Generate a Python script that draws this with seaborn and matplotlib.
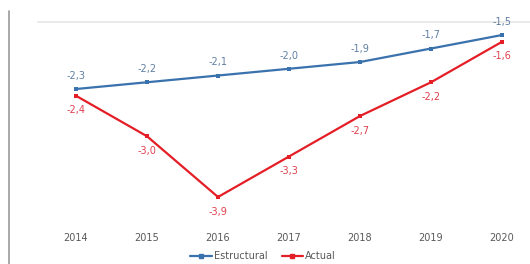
import pandas as pd
import numpy as np
import matplotlib.pyplot as plt
import seaborn as sns
from matplotlib.lines import Line2D

# datos del grafico
anios = ["2014", "2015", "2016", "2017", "2018", "2019", "2020"]
estructural = [-2.3, -2.2, -2.1, -2.0, -1.9, -1.7, -1.5]
actual = [-2.4, -3.0, -3.9, -3.3, -2.7, -2.2, -1.6]

df = pd.DataFrame({
    "pos": list(range(len(anios))) * 2,
    "valor": estructural + actual,
    "serie": ["Estructural"] * len(anios) + ["Actual"] * len(anios),
})

azul = "#3a72ad"
rojo = "#e41e26"

sns.set_theme(style="white")
plt.rcParams["font.family"] = ["DejaVu Sans"]

fig = plt.figure(figsize=(5.3, 2.64), dpi=100)
ax = fig.add_axes([38 / 530, 1 - 225 / 264, 1 - 38 / 530, (225 - 22) / 264])

sns.lineplot(data=df, x="pos", y="valor", hue="serie",
             palette={"Estructural": azul, "Actual": rojo},
             marker="s", markersize=3.5, markeredgewidth=0, linewidth=1.6,
             legend=False, ax=ax)

# etiquetas de datos
for i, v in enumerate(estructural):
    ax.annotate(f"{v:.1f}".replace(".", ","), (i, v), xytext=(0, 9.5),
                textcoords="offset points", ha="center", va="center",
                fontsize=7, color="#5f7fa3")
for i, v in enumerate(actual):
    ax.annotate(f"{v:.1f}".replace(".", ","), (i, v), xytext=(0, -10.5),
                textcoords="offset points", ha="center", va="center",
                fontsize=7, color="#e0404f")

ax.set_xlim(-0.535, 6.394)
ax.set_ylim(-4.315, -1.307)
ax.set_xticks(range(len(anios)))
ax.set_xticklabels(anios, fontsize=7, color="#595959")
ax.set_yticks([])
ax.set_xlabel("")
ax.set_ylabel("")
ax.tick_params(axis="x", length=0, pad=6)
for s in ["left", "right", "bottom"]:
    ax.spines[s].set_visible(False)
ax.spines["top"].set_color("#e6e6e6")
ax.spines["top"].set_linewidth(1.2)

# linea vertical del borde izquierdo
fig.add_artist(Line2D([9 / 530, 9 / 530], [0, 1 - 11 / 264],
                      color="#9a9a9a", linewidth=1.2))

handles = [
    Line2D([], [], color=azul, marker="s", markersize=3, linewidth=1.6),
    Line2D([], [], color=rojo, marker="s", markersize=3, linewidth=1.6),
]
fig.legend(handles, ["Estructural", "Actual"], loc="center",
           bbox_to_anchor=(263 / 530, 1 - 256 / 264), ncol=2, frameon=False,
           fontsize=7, handlelength=2.2, handletextpad=0.2,
           columnspacing=1.5, labelcolor="#595959")

fig.savefig("out.png", dpi=100)
